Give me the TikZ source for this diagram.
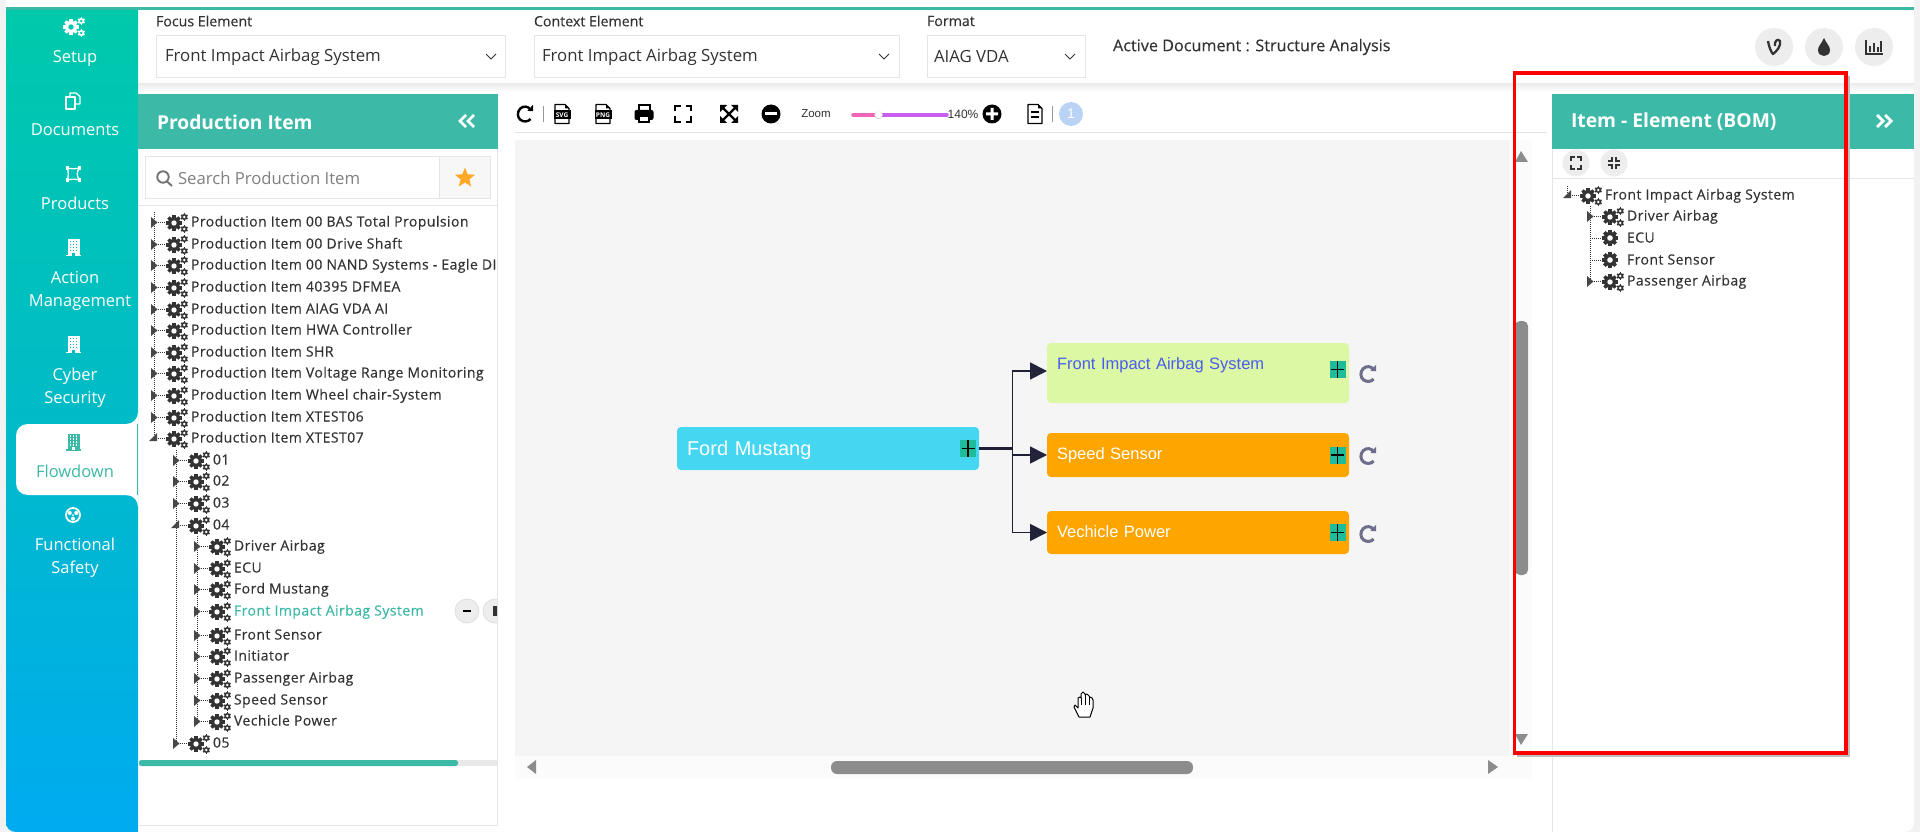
\documentclass[tikz,border=0pt]{standalone}
\usepackage{fontspec}
\setmainfont{Open Sans}
\newfontfamily\treefont[FakeBold=0.35,LetterSpace=3.2]{Open Sans}
\newfontfamily\medfont[FakeBold=0.2]{Open Sans}
\newfontfamily\arialfont{Liberation Sans}
\usetikzlibrary{arrows.meta,shapes.geometric,calc}
\definecolor{teal1}{HTML}{3CB9A7}
\definecolor{sidetop}{HTML}{00C9AB}
\definecolor{sidebot}{HTML}{00ABF0}
\definecolor{sidemid}{HTML}{00BBC8}
\definecolor{darktxt}{HTML}{333333}
\definecolor{linegray}{HTML}{E3E6E8}
\definecolor{canvasbg}{HTML}{F5F5F5}
\definecolor{thumbgray}{HTML}{8C8C8C}
\definecolor{ink}{HTML}{22223B}
\definecolor{plusgreen}{HTML}{1FBC9C}
\definecolor{refgray}{HTML}{6E6E8C}
\definecolor{fordblue}{HTML}{45D7F2}
\definecolor{frontgreen}{HTML}{DCF8A4}
\definecolor{frontblue}{HTML}{4A5CF0}
\definecolor{boxorange}{HTML}{FFA500}
\definecolor{starorange}{HTML}{FFA726}
\definecolor{slidepink}{HTML}{F264B8}
\definecolor{slidepurple}{HTML}{C95DF0}
\definecolor{pagecircle}{HTML}{BAD3F5}
\tikzset{
  x=1pt,y=-1pt,
  every node/.style={inner sep=0pt,outer sep=0pt},
  sidetext/.style={text=white,font=\fontsize{16.5}{18}\selectfont,anchor=center,text height=11pt,text depth=5pt,yshift=-3pt},
  lab/.style={anchor=west,text=darktxt,font=\medfont\fontsize{14.2}{16}\selectfont},
  seltext/.style={anchor=west,text=darktxt,font=\fontsize{16.8}{18}\selectfont},
  selbox/.style={draw=linegray,line width=0.9pt,fill=white},
  treetext/.style={anchor=base west,text=darktxt,font=\treefont\fontsize{14}{16}\selectfont},
  dotl/.style={draw=darktxt,line width=0.6pt,dash pattern=on 1pt off 1pt},
  tri/.style={fill=darktxt!90},
  diabox/.style={rectangle,rounded corners=4pt,anchor=north west,inner xsep=10pt,inner ysep=0pt,text width=282pt,align=left,text=white,font=\arialfont\fontsize{16.5}{18}\selectfont},
  plusbox/.style={rectangle,fill=plusgreen,minimum width=16pt,minimum height=17pt,
     path picture={\draw[black,line width=1.7pt]
       (path picture bounding box.north) -- (path picture bounding box.south)
       ($(path picture bounding box.west)+(1.5,0)$) -- ($(path picture bounding box.east)+(-1.5,0)$);}},
  conn/.style={draw=ink!90!black,line width=1.7pt},
  arr/.style={conn,-{Triangle[length=17pt,width=17pt,color=ink]}},
  roundbtn/.style={circle,fill=black!7,minimum size=38pt},
  smallbtn/.style={circle,fill=black!7,minimum size=27pt},
  chev/.style={draw=white,line width=2.8pt,line join=miter},
  pics/cogs/.style 2 args={code={
    \foreach \a in {0,45,90,135}{\fill[#1,shift={(-3,0)},rotate=\a] (-1.7,-7.8) rectangle (1.7,7.8);}
    \fill[#1] (-3,0) circle[radius=6];
    \fill[#2] (-3,0) circle[radius=2.7];
    \foreach \yy in {-6,6}{
      \foreach \a in {0,60,120}{\fill[#1,shift={(7.3,\yy)},rotate=\a] (-0.8,-3.7) rectangle (0.8,3.7);}
      \fill[#1] (7.3,\yy) circle[radius=3];
      \fill[#2] (7.3,\yy) circle[radius=1.4];}
  }},
  pics/cogone/.style={code={
    \foreach \a in {0,45,90,135}{\fill[darktxt,rotate=\a] (-1.8,-8) rectangle (1.8,8);}
    \fill[darktxt] (0,0) circle[radius=6.2];
    \fill[white] (0,0) circle[radius=2.8];
  }},
  pics/bldg/.style 2 args={code={
    \fill[#1] (-6,-8.5) rectangle (6,7.5);
    \fill[#1] (-7.5,7) rectangle (7.5,8.8);
    \foreach \yy in {-6,-3,0,3}{\foreach \xx in {-3,0,3}{\fill[#2] (\xx-0.7,\yy-0.8) rectangle (\xx+0.7,\yy+0.8);}}
    \fill[#2] (-1.3,5.2) rectangle (1.3,8);
  }},
  pics/docicon/.style={code={
    \draw[black,line width=1.2pt,line join=round] (-7,-9.5) -- (3,-9.5) -- (7,-5.5) -- (7,9.5) -- (-7,9.5) -- cycle;
    \fill[black] (3,-9.5) -- (7,-5.5) -- (3,-5.5) -- cycle;
  }},
  pics/refresh/.style 2 args={code={
    \draw[#1,line width=#2pt] (5.7,-4.2) .. controls (3.5,-7.8) and (-1.5,-8.6) .. (-4.8,-5.4)
       .. controls (-8,-2.2) and (-7.8,3.4) .. (-4.6,5.8) .. controls (-1.5,8.2) and (3.2,8) .. (5.6,5);
    \fill[#1] (2.4,-3.1) -- (8,-2.8) -- (8,-9.2) -- cycle;
  }},
}
\newcommand\trow[4]{%
  \draw[dotl] (#2,#3) -- ({#2+15},#3);
  \fill[tri] ({#2-3},{#3-5}) -- ({#2+3.5},{#3+0.5}) -- ({#2-3},{#3+6}) -- cycle;
  \pic at ({#2+23},{#3+1}) {cogs={darktxt}{white}};
  \node[treetext] (#1) at ({#2+37},{#3+4.5}) {#4};
}
\newcommand\trowopen[4]{%
  \draw[dotl] (#2,#3) -- ({#2+15},#3);
  \fill[tri] ({#2+3},{#3-5}) -- ({#2+3},{#3+3}) -- ({#2-5},{#3+3}) -- cycle;
  \pic at ({#2+23},{#3+1}) {cogs={darktxt}{white}};
  \node[treetext] (#1) at ({#2+37},{#3+4.5}) {#4};
}
\begin{document}
\begin{tikzpicture}
\useasboundingbox (0,0) rectangle (1920,832);
% page
\fill[black!5] (0,0) rectangle (1920,832);
\fill[white] (6,0) -- (1914,0) -- (1914,822) .. controls (1914,828) and (1910,832) .. (1904,832) -- (16,832) .. controls (10,832) and (6,828) .. (6,822) -- cycle;
% top bar shadow
\shade[top color=black!7,bottom color=white] (138,84) rectangle (1914,92);
% sidebar
\shade[top color=sidetop,bottom color=sidebot,middle color=sidemid] (6,9) -- (138,9) -- (138,832) -- (16,832) .. controls (10,832) and (6,828) .. (6,822) -- cycle;
\fill[teal1] (6,7) rectangle (1914,10);
% flowdown tab
\fill[white] (138,424) -- (28,424) .. controls (21,424) and (16,429) .. (16,436) -- (16,483) .. controls (16,490) and (21,495) .. (28,495) -- (138,495) -- cycle;
\fill[white] (138,412) -- (138,424) -- (126,424) .. controls (133,424) and (138,419) .. (138,412) -- cycle;
\fill[white] (138,507) -- (138,495) -- (126,495) .. controls (133,495) and (138,500) .. (138,507) -- cycle;
\draw[teal1,line width=0.8pt] (137.5,424) -- (137.5,495);
% sidebar icons
\pic at (74,27) {cogs={white}{sidetop!90!sidemid}};
\begin{scope}[shift={(73,101)}]
  \draw[white,line width=1.3pt,line join=round] (-3,-4) -- (-3,-8) -- (3,-8) -- (7,-4.5) -- (7,3) -- (3,3);
  \draw[white,line width=1.3pt,line join=round] (-7,-4) -- (2,-4) -- (2,8) -- (-7,8) -- cycle;
\end{scope}
\begin{scope}[shift={(73.5,174)}]
  \draw[white,line width=1.3pt] (-6,-6) .. controls (-2,-5) and (2,-5) .. (6,-6) .. controls (3,-2) and (3,2) .. (6,6) .. controls (2,5) and (-2,5) .. (-6,6) .. controls (-5,2) and (-5,-2) .. (-6,-6);
  \foreach \xx/\yy in {-6/-6,6/-6,6/6,-6/6}{\fill[white] (\xx-1.8,\yy-1.8) rectangle (\xx+1.8,\yy+1.8);}
\end{scope}
\pic at (73.5,247.5) {bldg={white}{sidemid!80!sidetop}};
\pic at (73.5,344.5) {bldg={white}{sidemid}};
\pic at (73.5,442) {bldg={teal1}{white}};
\begin{scope}[shift={(73,515)}]
  \draw[white,line width=1.8pt] (0,0) circle[radius=7];
  \fill[white] (-3.2,-2) circle[radius=2] (3.2,-2) circle[radius=2] (0,3.6) circle[radius=2] (0,0) circle[radius=1];
\end{scope}
% sidebar labels
\node[sidetext] (nSetup) at (75,57) {Setup};
\node[sidetext] (nDocs) at (75,130) {Documents};
\node[sidetext] (nProd) at (75,203) {Products};
\node[sidetext] (nAct) at (75,277) {Action};
\node[sidetext] (nMgmt) at (80,300) {Management};
\node[sidetext] (nCyb) at (75,374) {Cyber};
\node[sidetext] (nSec) at (75,397) {Security};
\node[sidetext,text=teal1] (nFlow) at (75,471) {Flowdown};
\node[sidetext] (nFun) at (75,544) {Functional};
\node[sidetext] (nSaf) at (75,567) {Safety};
% top selectors
\node[lab] (lFocus) at (156,21) {Focus Element};
\draw[selbox] (156.5,35.5) rectangle (505.5,77.5);
\node[seltext] (vFocus) at (165,57) {Front Impact Airbag System};
\draw[darktxt,line width=0.9pt] (486,54) -- (491,59) -- (496,54);
\node[lab] (lCtx) at (534,21) {Context Element};
\draw[selbox] (534.5,35.5) rectangle (899,77.5);
\node[seltext] (vCtx) at (542,57) {Front Impact Airbag System};
\draw[darktxt,line width=0.9pt] (879,54) -- (884,59) -- (889,54);
\node[lab] (lFmt) at (927,21) {Format};
\draw[selbox] (927,35.5) rectangle (1085,77.5);
\node[seltext] (vFmt) at (934,57) {AIAG VDA};
\draw[darktxt,line width=0.9pt] (1065,54) -- (1070,59) -- (1075,54);
\node[lab,font=\medfont\fontsize{16.2}{18}\selectfont] (active) at (1113,47) {Active Document : Structure Analysis};
% round buttons
\node[roundbtn] (b1) at (1774,47) {};
\node[roundbtn] (b2) at (1824,47) {};
\node[roundbtn] (b3) at (1874,47) {};
\draw[darktxt,line width=2.3pt,line join=round] (1768,41) .. controls (1769,47) and (1771,52) .. (1773,54) .. controls (1777,51) and (1781,46) .. (1780,41) .. controls (1778,38) and (1774,41) .. (1775,46);
\fill[darktxt] (1824,38) .. controls (1826,43) and (1830,46) .. (1830,50) .. controls (1830,58) and (1818,58) .. (1818,50) .. controls (1818,46) and (1822,43) .. (1824,38) -- cycle;
\draw[darktxt,line width=1.5pt] (1866,40) -- (1866,54) -- (1883,54);
\foreach \xx/\yy in {1870/46,1874/43,1878/47,1881/41}{\draw[darktxt,line width=1.7pt] (\xx,52) -- (\xx,\yy);}
% toolbar
\draw[linegray,line width=1pt] (515,133) -- (1547,133);
\begin{scope}[shift={(525,114)},scale=0.85]
\pic at (0,0) {refresh={black}{2.4}};
\end{scope}
\draw[black!40,line width=0.8pt] (543,106) -- (543,122);
\foreach \xx/\tt/\nn in {562/SVG/tsvg,603/PNG/tpng}{
  \pic at (\xx,114) {docicon};
  \fill[black] (\xx-8.5,110.5) rectangle (\xx+8.5,119.5);
  \node[text=white,font=\bfseries\fontsize{6.5}{6.5}\selectfont] (\nn) at (\xx,115) {\tt};
}
\begin{scope}[shift={(644,114)}]
  \draw[black,line width=2pt] (-5.5,-3) -- (-5.5,-9) -- (5.5,-9) -- (5.5,-3);
  \fill[black,rounded corners=2pt] (-9.5,-4) rectangle (9.5,6);
  \fill[black] (-6,2) rectangle (6,9.5);
  \fill[white] (-4,3.5) rectangle (4,7.5);
\end{scope}
\begin{scope}[shift={(683,114)}]
  \draw[black,line width=2.4pt] (-8,-2.5) -- (-8,-8) -- (-2.5,-8) (2.5,-8) -- (8,-8) -- (8,-2.5) (8,2.5) -- (8,8) -- (2.5,8) (-2.5,8) -- (-8,8) -- (-8,2.5);
\end{scope}
\begin{scope}[shift={(729,114)}]
  \draw[black,line width=2.4pt] (-6,-6) -- (6,6) (-6,6) -- (6,-6);
  \fill[black] (-9,-9) -- (-2,-9) -- (-9,-2) -- cycle (9,-9) -- (2,-9) -- (9,-2) -- cycle (-9,9) -- (-2,9) -- (-9,2) -- cycle (9,9) -- (2,9) -- (9,2) -- cycle;
\end{scope}
\fill[black] (771,114) circle[radius=9.5];
\fill[white] (765,112.5) rectangle (777,115.5);
\node[font=\arialfont\fontsize{11.5}{13}\selectfont,text=darktxt] (zoomt) at (816,114) {Zoom};
\draw[line width=3.5pt,line cap=round,color=slidepink] (853,115) -- (878,115);
\draw[line width=3.5pt,line cap=round,color=slidepurple] (878,115) -- (947,115);
\fill[black!15] (878.5,115) circle[radius=4.2];
\fill[white] (878.5,114.5) circle[radius=3.6];
\node[font=\arialfont\fontsize{12}{13}\selectfont,text=darktxt] (pct) at (963,114) {140\%};
\fill[black] (992,114) circle[radius=9.5];
\fill[white] (986,112.5) rectangle (998,115.5) (990.5,108) rectangle (993.5,120);
\pic at (1035,114) {docicon};
\draw[black,line width=1.2pt] (1031,112) -- (1039,112) (1031,117) -- (1039,117);
\draw[black!40,line width=0.8pt] (1052,106) -- (1052,122);
\node[circle,fill=pagecircle,minimum size=24pt,text=white,font=\arialfont\fontsize{14}{14}\selectfont] (pageone) at (1071,114) {1};
% canvas
\fill[canvasbg] (515,140) rectangle (1509,756);
\fill[black!1.5] (515,756) rectangle (1532,779);
\fill[black!1.5] (1509,140) rectangle (1532,756);
\fill[thumbgray,rounded corners=6pt] (831,761) rectangle (1193,774);
\fill[thumbgray] (527,767) -- (536,760) -- (536,774) -- cycle;
\fill[thumbgray] (1498,767) -- (1488,760) -- (1488,774) -- cycle;
\fill[thumbgray,rounded corners=5pt] (1515,321) rectangle (1528,575);
\fill[thumbgray] (1521,151) -- (1528,162) -- (1515,162) -- cycle;
\fill[thumbgray] (1521,745) -- (1528,734) -- (1515,734) -- cycle;
% diagram
\node[diabox,fill=fordblue,minimum width=302pt,text height=28pt,text depth=15pt,font=\arialfont\fontsize{20}{22}\selectfont] (ford) at (677,427) {Ford Mustang};
\node[diabox,fill=frontgreen,text=frontblue,minimum width=302pt,text height=26pt,text depth=34pt] (front) at (1047,343) {Front Impact Airbag System};
\node[diabox,fill=boxorange,minimum width=302pt,text height=26.5pt,text depth=17.5pt] (speed) at (1047,433) {Speed Sensor};
\node[diabox,fill=boxorange,minimum width=302pt,text height=26.5pt,text depth=16.5pt] (vech) at (1047,511) {Vechicle Power};
\node[plusbox] (pford) at (968,448.5) {};
\node[plusbox] (pfront) at (1337.5,369.5) {};
\node[plusbox] (pspeed) at (1337.5,455) {};
\node[plusbox] (pvech) at (1337.5,532.5) {};
\coordinate (frontin) at (1047,371);
\draw[conn,line width=3pt] (ford.east) -- ++(33.5,0);
\draw[arr] (ford.east) -- ++(33.5,0) |- (frontin);
\draw[arr] (ford.east) -- ++(33.5,0) |- (speed.west);
\draw[arr] (ford.east) -- ++(33.5,0) |- (vech.west);
\pic at (1368,374) {refresh={refgray}{3}};
\pic at (1368,456) {refresh={refgray}{3}};
\pic at (1368,534) {refresh={refgray}{3}};
% hand cursor
\begin{scope}[shift={(1084,705)}]
  \draw[black,fill=white,line width=1pt,line join=round] (-5,12) -- (-10,2) -- (-9,0) -- (-6,3) -- (-6,-7) -- (-4,-8) -- (-3,-7) -- (-3,-11) -- (-1,-13) -- (1,-11) -- (1,-10) -- (3,-11) -- (5,-9) -- (6,-8) -- (8,-7) -- (9,-5) -- (9,3) -- (6,12) -- cycle;
  \draw[black,line width=0.8pt] (-3,-7) -- (-3,0) (1,-10) -- (1,0) (5,-9) -- (5,0);
\end{scope}
% left panel
\draw[linegray,line width=1pt] (497.5,149) -- (497.5,825.5) -- (138,825.5);
\fill[teal1] (138,94) rectangle (498,149);
\node[anchor=west,text=white,font=\bfseries\fontsize{19.2}{22}\selectfont] (hleft) at (157,122) {Production Item};
\draw[chev] (466,115) -- (460,121) -- (466,127) (474,115) -- (468,121) -- (474,127);
\draw[linegray,line width=0.9pt,fill=white] (145.5,156.5) rectangle (439,198.5);
\draw[linegray,line width=0.9pt,fill=black!3] (439,156.5) rectangle (490.5,198.5);
\draw[black!55,line width=1.9pt] (163,177) circle[radius=5.7] (167,181.5) -- (172,186);
\node[anchor=west,text=black!50,font=\fontsize{16.7}{18}\selectfont] (searcht) at (178,178) {Search Production Item};
\node[star,star points=5,star point ratio=2.3,fill=starorange,minimum size=21pt] (starb) at (465,178) {};
\draw[linegray,line width=0.9pt] (138,205.5) -- (497,205.5);
% tree
\begin{scope}
\clip (139,206) rectangle (497,758);
\draw[dotl] (154,212) -- (154,438);
\draw[dotl] (176,450) -- (176,743);
\draw[dotl] (197,536) -- (197,721);
\trow{t1}{154}{222}{Production Item 00 BAS Total Propulsion}
\trow{t2}{154}{244}{Production Item 00 Drive Shaft}
\trow{t3}{154}{265}{Production Item 00 NAND Systems - Eagle DI}
\trow{t4}{154}{287}{Production Item 40395 DFMEA}
\trow{t5}{154}{309}{Production Item AIAG VDA AI}
\trow{t6}{154}{330}{Production Item HWA Controller}
\trow{t7}{154}{352}{Production Item SHR}
\trow{t8}{154}{373}{Production Item Voltage Range Monitoring}
\trow{t9}{154}{395}{Production Item Wheel chair-System}
\trow{t10}{154}{417}{Production Item XTEST06}
\trowopen{t11}{154}{438}{Production Item XTEST07}
\trow{t12}{176}{460}{01}
\trow{t13}{176}{481}{02}
\trow{t14}{176}{503}{03}
\trowopen{t15}{176}{525}{04}
\trow{t16}{197}{546}{Driver Airbag}
\trow{t17}{197}{568}{ECU}
\trow{t18}{197}{589}{Ford Mustang}
\trow{t19}{197}{611}{\textcolor{teal1}{Front Impact Airbag System}}
\trow{t20}{197}{635}{Front Sensor}
\trow{t21}{197}{656}{Initiator}
\trow{t22}{197}{678}{Passenger Airbag}
\trow{t23}{197}{700}{Speed Sensor}
\trow{t24}{197}{721}{Vechicle Power}
\trow{t25}{176}{743}{05}
\fill[black!7] (467,611) circle[radius=12];
\draw[black!15,line width=0.6pt] (467,611) circle[radius=12];
\draw[black,line width=1.4pt] (463,611) -- (471,611);
\fill[black!7] (495,611) circle[radius=12];
\draw[black!15,line width=0.6pt] (495,611) circle[radius=12];
\fill[darktxt] (493,606) rectangle (500,616);
\end{scope}
\fill[black!9] (139,760) rectangle (497,766);
\fill[teal1,rounded corners=2.5pt] (139,760) rectangle (458,766);
% right panel
\draw[linegray,line width=0.9pt] (1552.5,149) -- (1552.5,832);
\fill[teal1] (1552,94) rectangle (1914,149);
\node[anchor=west,text=white,font=\bfseries\fontsize{19.3}{22}\selectfont] (hright) at (1571,122) {Item - Element (BOM)};
\draw[chev] (1877,115) -- (1883,121) -- (1877,127) (1885,115) -- (1891,121) -- (1885,127);
\node[smallbtn] (bx1) at (1576,163) {};
\node[smallbtn] (bx2) at (1614,163) {};
\draw[darktxt,line width=1.3pt] (1571,161) -- (1571,157) -- (1575,157) (1577,157) -- (1581,157) -- (1581,161) (1581,165) -- (1581,169) -- (1577,169) (1575,169) -- (1571,169) -- (1571,165);
\draw[darktxt,line width=1.3pt] (1612,157) -- (1612,161) -- (1608,161) (1616,157) -- (1616,161) -- (1620,161) (1620,165) -- (1616,165) -- (1616,169) (1612,169) -- (1612,165) -- (1608,165);
\draw[linegray,line width=0.9pt] (1552,178.5) -- (1914,178.5);
\draw[dotl] (1567,186) -- (1567,195);
\trowopen{r0}{1568}{195}{Front Impact Airbag System}
\draw[dotl] (1590,206) -- (1590,281);
\trow{r1}{1590}{216}{Driver Airbag}
\draw[dotl] (1590,238) -- (1602,238);
\pic at (1610,238) {cogone};
\node[treetext] (r2) at (1627,242.5) {ECU};
\draw[dotl] (1590,260) -- (1602,260);
\pic at (1610,260) {cogone};
\node[treetext] (r3) at (1627,264.5) {Front Sensor};
\trow{r4}{1590}{281}{Passenger Airbag}
% red highlight
\draw[black!25,line width=2pt] (1849,76) -- (1849,756) -- (1517,756);
\draw[red,line width=3.2pt] (1514.5,73) rectangle (1846,753);
\end{tikzpicture}
\end{document}
